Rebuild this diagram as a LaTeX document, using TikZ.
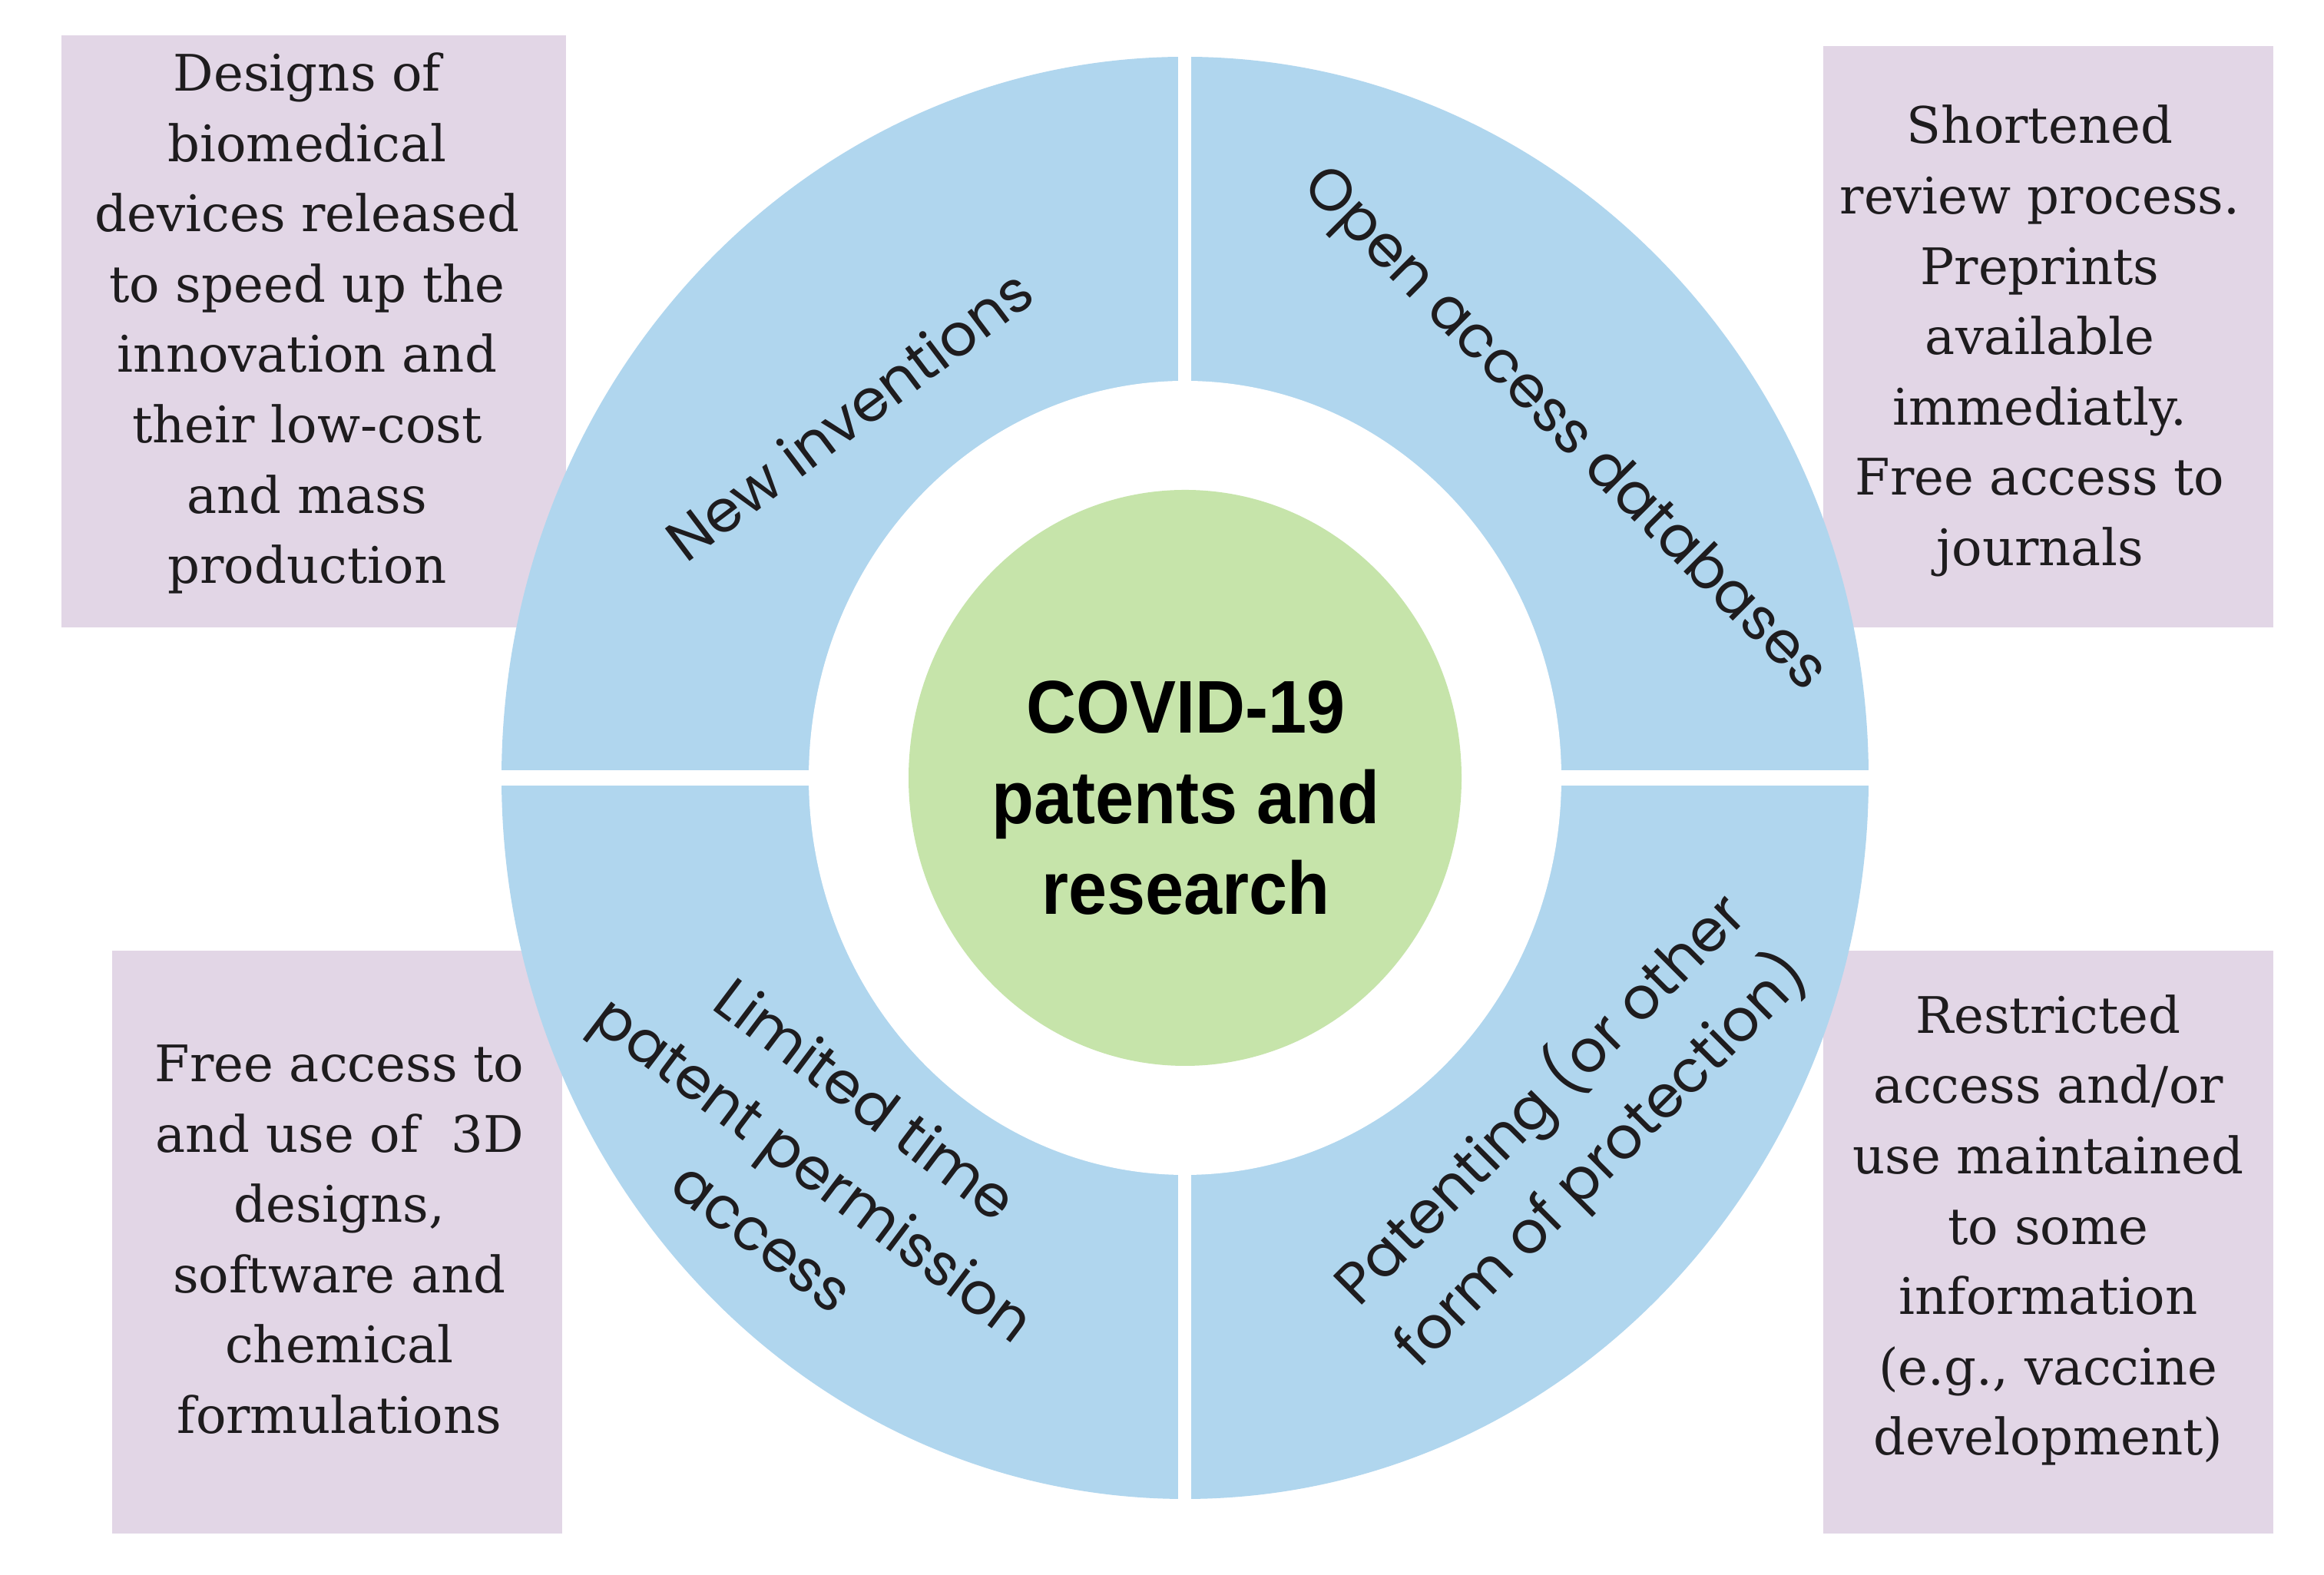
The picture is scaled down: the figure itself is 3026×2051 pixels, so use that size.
\documentclass[tikz,border=0pt]{standalone}
\usepackage{fontspec}
\setmainfont{DejaVu Serif}
\newfontfamily\boxfont{DejaVu Serif}
\newfontfamily\ringfont{Poppins}
\newfontfamily\hubfont{Liberation Sans}
\definecolor{ringblue}{RGB}{176,214,238}
\definecolor{boxlilac}{RGB}{226,214,230}
\definecolor{hubgreen}{RGB}{198,228,170}
\definecolor{inktext}{RGB}{30,28,30}
\begin{document}
\begin{tikzpicture}[x=0.25pt,y=0.25pt,
  boxtext/.style={font=\boxfont\fontsize{16.4}{22.9}\selectfont, align=center, inner sep=0pt, text=inktext},
  ringtext/.style={font=\ringfont\fontsize{19}{28}\selectfont, align=center, inner sep=0pt, text=inktext},
  hubtext/.style={font=\hubfont\bfseries\fontsize{22.5}{27.3}\selectfont, align=center, inner sep=0pt, text=black}
  ]
\useasboundingbox[fill=white] (0,0) rectangle (3026,2051);
% info boxes
\fill[boxlilac] (80,1234) rectangle (737,2005);
\fill[boxlilac] (2374,1234) rectangle (2960,1991);
\fill[boxlilac] (146,54) rectangle (732,813);
\fill[boxlilac] (2374,54) rectangle (2960,813);
% ring
\coordinate (C) at (1543,1038);
\fill[ringblue] (C) ellipse [x radius=890, y radius=939];
\fill[white] (C) ellipse [x radius=490, y radius=517];
\fill[white] (1534,80) rectangle (1551,1996);
\fill[white] (640,1028) rectangle (2446,1048);
% hub
\fill[hubgreen] (C) ellipse [x radius=360, y radius=375];
% texts
\node[boxtext] (tltext) at (400,1630) {Designs of\\biomedical\\devices released\\to speed up the\\innovation and\\their low-cost\\and mass\\production};
\node[boxtext] (trtext) at (2656,1607) {Shortened\\review process.\\Preprints\\available\\immediatly.\\Free access to\\journals};
\node[boxtext] (bltext) at (442,437) {Free access to\\and use of~~3D\\designs,\\software and\\chemical\\formulations};
\node[boxtext] (brtext) at (2667,449) {Restricted\\access and/or\\use maintained\\to some\\information\\(e.g., vaccine\\development)};
\node[ringtext, rotate=37] (newinv) at (1105,1511) {New inventions};
\node[ringtext, rotate=-45] (openacc) at (2035,1490) {Open access databases};
\node[ringtext, rotate=-37] (limited) at (1061,531) {Limited time\\patent permission\\access};
\node[ringtext, rotate=45] (patenting) at (2045,580) {Patenting (or other\\form of protection)};
\node[hubtext, yscale=1.08, transform shape] (hub) at (1544,1012) {COVID-19\\patents and\\research};
\end{tikzpicture}
\end{document}
